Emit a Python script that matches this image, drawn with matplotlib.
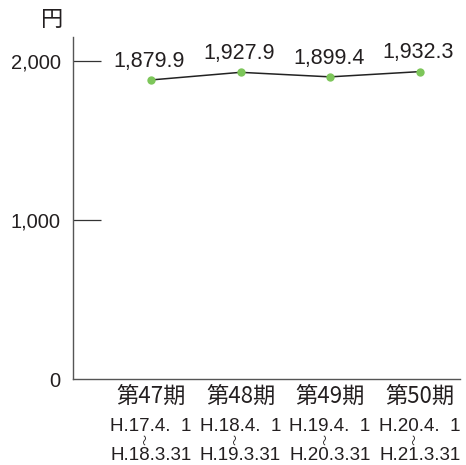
import matplotlib
matplotlib.use("Agg")
import matplotlib.pyplot as plt
import matplotlib.transforms as mtransforms

periods = ["第47期", "第48期", "第49期", "第50期"]
start_dates = ["H.17.4.  1", "H.18.4.  1", "H.19.4.  1", "H.20.4.  1"]
end_dates = ["H.18.3.31", "H.19.3.31", "H.20.3.31", "H.21.3.31"]
values = [1879.9, 1927.9, 1899.4, 1932.3]
yticks = [0, 1000, 2000]
ytick_labels = ["0", "1,000", "2,000"]
unit_label = "円"

LATIN = ["Liberation Sans", "DejaVu Sans"]
CJK = ["Noto Sans CJK JP", "DejaVu Sans"]
TXT = "#231f20"

fig = plt.figure(figsize=(4.66, 4.65), dpi=100)
W, H = 466, 465
ax = fig.add_axes([73 / W, (H - 379) / H, (460 - 73) / W, (379 - 37) / H])

x = list(range(len(values)))
ax.plot(x, values, color="#222222", lw=1.1, zorder=2)
ax.plot(x, values, "o", color="#7dc65a", ms=6, mec="none", zorder=3)

ax.set_xlim(-0.87, 3.45)
ax.set_ylim(0, 2150)

for s in ["top", "right"]:
    ax.spines[s].set_visible(False)
for s in ["left", "bottom"]:
    ax.spines[s].set_color("#555555")
    ax.spines[s].set_linewidth(1.0)

ax.set_yticks(yticks)
ax.set_yticklabels(ytick_labels, fontfamily=LATIN, fontsize=14.5, color=TXT)
ax.tick_params(axis="y", direction="in", length=20, width=0.9, color="#333333", pad=9)
# hide the zero tick mark but keep its label
ax.yaxis.get_major_ticks()[0].tick1line.set_visible(False)
ax.set_xticks([])

# value labels above each point
for xi, v in zip(x, values):
    ax.annotate(f"{v:,.1f}", (xi, v), xytext=(-1, 9.5), textcoords="offset points",
                ha="center", va="baseline", fontsize=15.5, fontfamily=LATIN, color=TXT)

# unit label
fig.text(52 / W, 1 - 20 / H, unit_label, ha="center", va="center",
         fontsize=16, fontfamily=CJK, color=TXT)

# category labels below the axis
base = ax.get_xaxis_transform()
def below(px, dx=0):
    return base + mtransforms.ScaledTranslation(dx / 100, -px / 100, fig.dpi_scale_trans)

for xi, p, s, e in zip(x, periods, start_dates, end_dates):
    ax.text(xi, 0, p, transform=below(17), ha="center", va="center",
            fontsize=16, fontfamily=CJK, color=TXT)
    ax.text(xi, 0, s, transform=below(47), ha="center", va="center",
            fontsize=13.5, fontfamily=LATIN, color=TXT)
    # small vertical wave between start and end dates
    ax.text(xi, 0, "〜", transform=below(60, -4), ha="center", va="center",
            fontsize=8, fontfamily=CJK, color=TXT, rotation=90)
    ax.text(xi, 0, e, transform=below(76), ha="center", va="center",
            fontsize=13.5, fontfamily=LATIN, color=TXT)

fig.savefig("out.png", dpi=100, facecolor="white")
